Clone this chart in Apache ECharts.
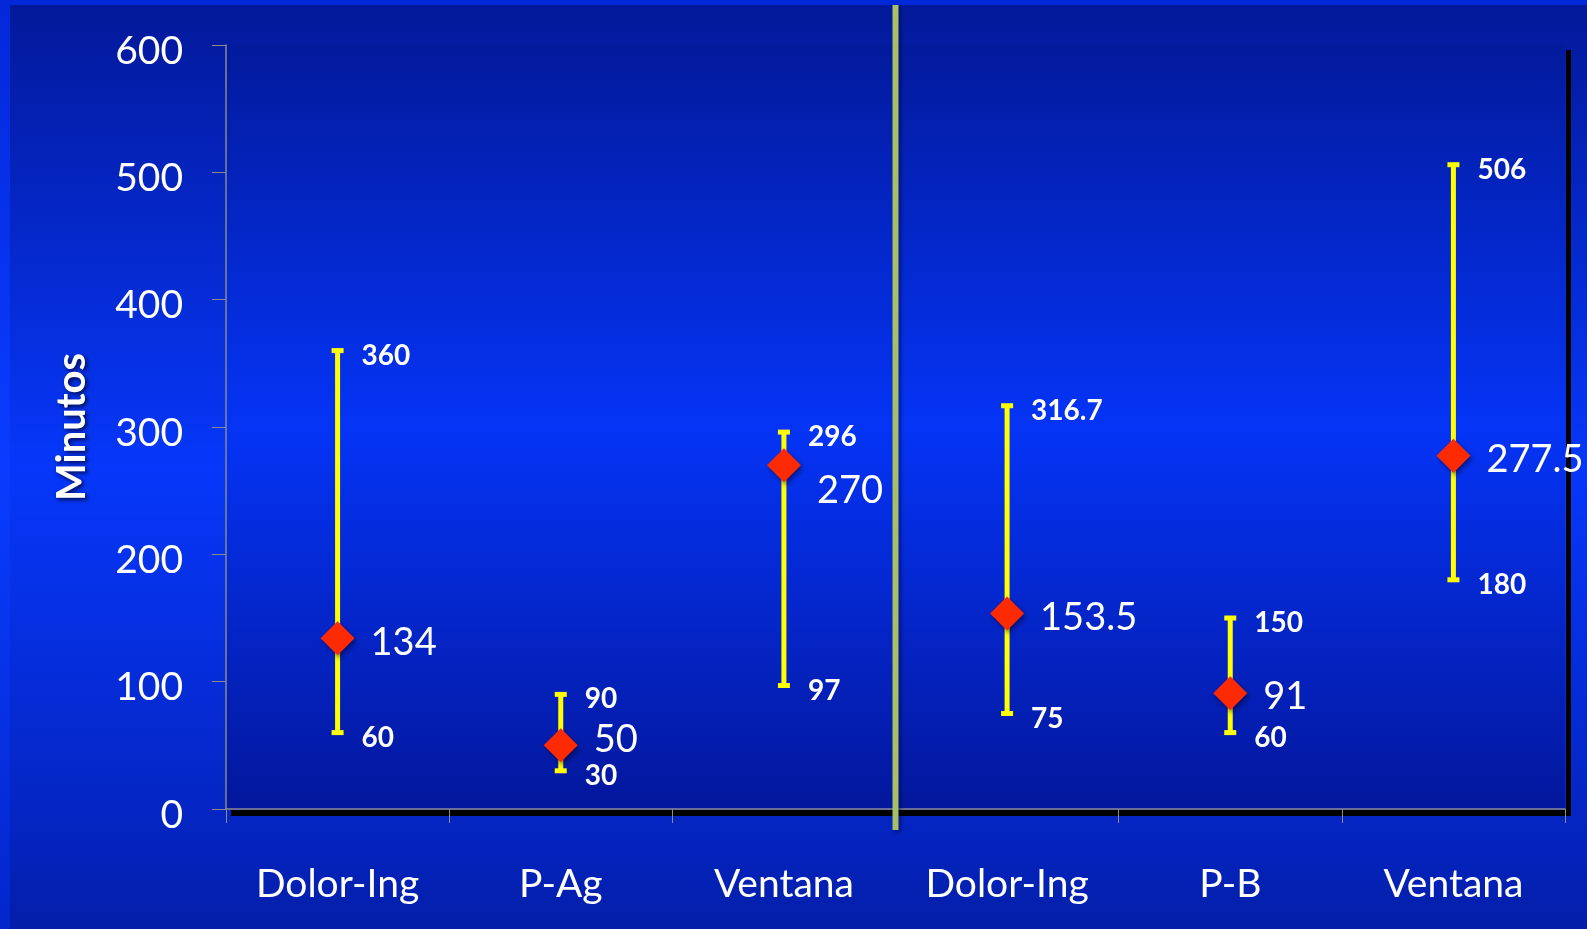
<!DOCTYPE html>
<html>
<head>
<meta charset="utf-8">
<title>Minutos</title>
<script src="https://cdn.jsdelivr.net/npm/echarts@6/dist/echarts.min.js"></script>
<style>
  html, body { margin: 0; padding: 0; background: #0328d8; }
  #chart { width: 1587px; height: 929px; }
</style>
</head>
<body>
<div id="chart"></div>
<script>
// Categories (two groups of three, separated by the green divider)
const categories = ['Dolor-Ing', 'P-Ag', 'Ventana', 'Dolor-Ing', 'P-B', 'Ventana'];
// Median / central value per category
const centerValues = [134, 50, 270, 153.5, 91, 277.5];
// Range limits per category
const lowValues = [60, 30, 97, 75, 60, 180];
const highValues = [360, 90, 296, 316.7, 150, 506];
// Y axis ticks
const yTicks = [0, 100, 200, 300, 400, 500, 600];

// Small vertical nudges for the central-value labels so they clear the range labels
const centerLabelNudge = [0, -10, 22, 0, 0, 0];

const FONT = 'Lato, "Open Sans", sans-serif';

// Plot area geometry (pixels)
const GRID = { left: 226, top: 45, width: 1339, height: 764 };

const chart = echarts.init(document.getElementById('chart'), null, { renderer: 'canvas' });

const rangeData = categories.map((c, i) => [i, lowValues[i], highValues[i]]);
const centerData = categories.map((c, i) => ({
  value: [i, centerValues[i]],
  label: { offset: [0, 4 + centerLabelNudge[i]] }
}));

function renderRange(params, api) {
  const idx = api.value(0);
  const lo = api.coord([idx, api.value(1)]);
  const hi = api.coord([idx, api.value(2)]);
  const x = lo[0];
  const yellow = '#ffff00';
  const capHalf = 6;
  const labelStyle = (text, y) => ({
    type: 'text',
    z2: 5,
    style: {
      text: text,
      x: x + 24,
      y: y + 5,
      fill: '#ffffff',
      font: 'bold 28px ' + FONT,
      textAlign: 'left',
      textVerticalAlign: 'middle'
    }
  });
  return {
    type: 'group',
    children: [
      { type: 'line', shape: { x1: x, y1: lo[1], x2: x, y2: hi[1] },
        style: { stroke: yellow, lineWidth: 5 } },
      { type: 'line', shape: { x1: x - capHalf, y1: hi[1], x2: x + capHalf, y2: hi[1] },
        style: { stroke: yellow, lineWidth: 5 } },
      { type: 'line', shape: { x1: x - capHalf, y1: lo[1], x2: x + capHalf, y2: lo[1] },
        style: { stroke: yellow, lineWidth: 5 } },
      labelStyle(String(api.value(2)), hi[1]),
      labelStyle(String(api.value(1)), lo[1])
    ]
  };
}

const dividerX = GRID.left + GRID.width / 2;

const option = {
  animation: false,
  backgroundColor: {
    type: 'linear', x: 0, y: 0, x2: 0, y2: 1,
    colorStops: [
      { offset: 0, color: '#0328da' },
      { offset: 0.5, color: '#0a3cff' },
      { offset: 1, color: '#0326cc' }
    ]
  },
  graphic: [
    // slide panel
    { type: 'rect', z: -20, silent: true,
      shape: { x: 10, y: 5, width: 1577, height: 924 },
      style: { fill: {
        type: 'linear', x: 0, y: 0, x2: 0, y2: 1,
        colorStops: [
          { offset: 0, color: '#03199a' },
          { offset: 0.5, color: '#0637fa' },
          { offset: 0.9, color: '#0424bf' },
          { offset: 1, color: '#031ea8' }
        ] } } },
    // plot area
    { type: 'rect', z: -19, silent: true,
      shape: { x: GRID.left, y: GRID.top, width: GRID.width, height: GRID.height },
      style: { fill: {
        type: 'linear', x: 0, y: 0, x2: 0, y2: 1,
        colorStops: [
          { offset: 0, color: '#021a9c' },
          { offset: 0.5, color: '#0534f6' },
          { offset: 1, color: '#03179c' }
        ] } } },
    // plot area depth edges
    { type: 'rect', z: -18, silent: true,
      shape: { x: GRID.left + 5, y: GRID.top + GRID.height + 1, width: GRID.width + 1, height: 6 },
      style: { fill: '#000000' } },
    { type: 'rect', z: -18, silent: true,
      shape: { x: GRID.left + GRID.width + 1, y: GRID.top + 5, width: 5, height: GRID.height + 2 },
      style: { fill: '#000000' } },
    // group divider
    { type: 'rect', z: 1, silent: true,
      shape: { x: dividerX - 3, y: 5, width: 6, height: 825 },
      style: { fill: '#a7c068', shadowColor: 'rgba(0,0,40,0.5)', shadowBlur: 4, shadowOffsetX: 2, shadowOffsetY: 2 } }
  ],
  grid: {
    left: GRID.left, top: GRID.top, width: GRID.width, height: GRID.height,
    containLabel: false
  },
  xAxis: {
    type: 'category',
    data: categories,
    boundaryGap: true,
    axisLine: { show: true, lineStyle: { color: '#8a8a8a', width: 1.5 } },
    axisTick: { show: true, interval: 0, length: 14, lineStyle: { color: '#8a8a8a', width: 1 } },
    axisLabel: { interval: 0, margin: 56, color: '#ffffff', fontSize: 39, fontFamily: FONT },
    splitLine: { show: false }
  },
  yAxis: {
    type: 'value',
    min: yTicks[0],
    max: yTicks[yTicks.length - 1],
    interval: yTicks[1] - yTicks[0],
    name: 'Minutos',
    nameLocation: 'middle',
    nameRotate: 90,
    nameGap: 134,
    nameTextStyle: {
      color: '#ffffff', fontSize: 40, fontWeight: 'bold', fontFamily: FONT,
      textShadowColor: 'rgba(0,0,30,0.8)', textShadowBlur: 4, textShadowOffsetX: 2, textShadowOffsetY: 2
    },
    axisLine: { show: true, lineStyle: { color: '#8a8a8a', width: 1.5 } },
    axisTick: { show: true, length: 14, lineStyle: { color: '#8a8a8a', width: 1 } },
    axisLabel: {
      margin: 43,
      formatter: v => '{v|' + v + '}',
      rich: { v: { color: '#ffffff', fontSize: 39, fontFamily: FONT, padding: [12, 0, 0, 0] } }
    },
    splitLine: { show: false }
  },
  series: [
    {
      type: 'custom',
      name: 'range',
      renderItem: renderRange,
      data: rangeData,
      encode: { x: 0, y: [1, 2] },
      z: 3
    },
    {
      type: 'scatter',
      name: 'center',
      data: centerData,
      symbol: 'diamond',
      symbolSize: 34,
      itemStyle: {
        color: '#ff2a00',
        opacity: 1,
        shadowColor: 'rgba(0,0,30,0.5)', shadowBlur: 5, shadowOffsetX: 2, shadowOffsetY: 3
      },
      label: {
        show: true,
        position: 'right',
        distance: 16,
        color: '#ffffff',
        opacity: 1,
        fontSize: 38,
        fontFamily: FONT,
        formatter: p => String(p.value[1])
      },
      z: 4
    }
  ]
};

chart.setOption(option);
</script>
</body>
</html>
